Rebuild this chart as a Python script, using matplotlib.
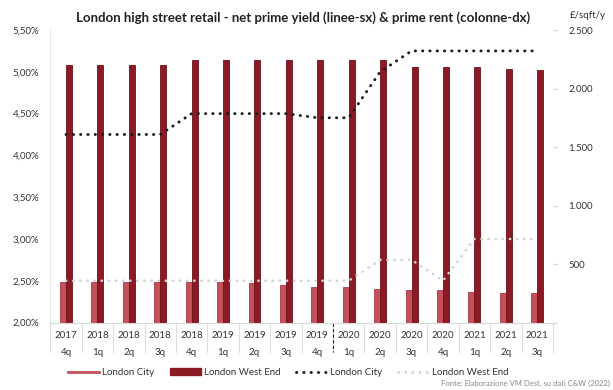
import numpy as np
import matplotlib.pyplot as plt
from matplotlib.lines import Line2D
from matplotlib.patches import Patch

plt.rcParams['font.family'] = ['Lato', 'DejaVu Sans']

# Trimestri (anno / quarter)
anni = ['2017', '2018', '2018', '2018', '2018', '2019', '2019', '2019', '2019',
        '2020', '2020', '2020', '2020', '2021', '2021', '2021']
trimestri = ['4q', '1q', '2q', '3q', '4q', '1q', '2q', '3q', '4q',
             '1q', '2q', '3q', '4q', '1q', '2q', '3q']

# Prime rent (£/sqft/y) - colonne, asse dx
rent_city = [345, 345, 345, 345, 345, 345, 340, 325, 305, 300, 290, 280, 275, 260, 250, 250]
rent_west_end = [2200, 2200, 2200, 2200, 2245, 2245, 2245, 2245, 2245, 2245, 2245,
                 2180, 2180, 2180, 2165, 2160]

# Net prime yield (%) - linee, asse sx
yield_city = [4.25, 4.25, 4.25, 4.25, 4.50, 4.50, 4.50, 4.50, 4.45, 4.45, 5.00,
              5.25, 5.25, 5.25, 5.25, 5.25]
yield_west_end = [2.50, 2.50, 2.50, 2.50, 2.50, 2.50, 2.50, 2.50, 2.50, 2.50, 2.75,
                  2.75, 2.50, 3.00, 3.00, 3.00]

col_city = '#c4505c'
col_we = '#8c1a24'
dot_city = dict(color='#1a1a1a', linewidth=2.1, linestyle=(0, (0.1, 2.4)), dash_capstyle='round')
dot_we = dict(color='#d2d2d2', linewidth=1.9, linestyle=(0, (0.1, 2.6)), dash_capstyle='round')

x = np.arange(len(anni))
w = 0.19

fig = plt.figure(figsize=(6.13, 3.90), dpi=100)
ax = fig.add_axes([0.082, 0.173, 0.82, 0.75])
ax2 = ax.twinx()

# colonne sull'asse destro
ax2.bar(x - w / 2, rent_city, width=w, color=col_city, edgecolor='#a83844', linewidth=0.6)
ax2.bar(x + w / 2, rent_west_end, width=w, color=col_we, edgecolor='#6e1018', linewidth=0.6)
ax2.set_ylim(0, 2500)
ax2.set_yticks([0, 500, 1000, 1500, 2000, 2500])
ax2.set_yticklabels(['', '500', '1.000', '1.500', '2.000', '2.500'])

# linee sull'asse sinistro, disegnate sopra le colonne
ax.set_zorder(ax2.get_zorder() + 1)
ax.patch.set_visible(False)
ax.plot(x, yield_west_end, **dot_we)
ax.plot(x, yield_city, **dot_city)
ax.set_ylim(2.0, 5.5)
yt = np.arange(2.0, 5.51, 0.5)
ax.set_yticks(yt)
ax.set_yticklabels([('%.2f%%' % v).replace('.', ',') for v in yt])
ax.set_xlim(-0.5, len(anni) - 0.5)
ax.set_xticks(x)
ax.set_xticklabels([a + '\n\n' + q for a, q in zip(anni, trimestri)], linespacing=0.95)

for a in (ax, ax2):
    for s in ('top', 'right', 'left', 'bottom'):
        a.spines[s].set_visible(False)
ax.spines['left'].set_visible(True)
ax.spines['left'].set_color('#e4e4e4')
ax.spines['bottom'].set_visible(True)
ax.spines['bottom'].set_color('#d9d9d9')
ax.tick_params(axis='y', length=0, labelsize=7, labelcolor='#333333', pad=8)
ax.tick_params(axis='x', length=0, labelsize=7, labelcolor='#333333', pad=6)
ax2.tick_params(axis='y', length=3, color='#d0d0d0', labelsize=7, labelcolor='#333333', pad=8)

# separatori tra le etichette dei trimestri
trans = ax.get_xaxis_transform()
for b in np.arange(-0.5, len(anni), 1.0):
    ax.plot([b, b], [0, -0.1], transform=trans, color='#dddddd', linewidth=0.8, clip_on=False)
ax.plot([8.5, 8.5], [0, -0.1], transform=trans, color='#222222', linewidth=0.8,
        linestyle=(0, (3, 2)), clip_on=False)

fig.text(0.495, 0.955, 'London high street retail - net prime yield (linee-sx) & prime rent (colonne-dx)',
         ha='center', va='center', fontsize=9.5, fontweight='bold', color='#222222')
fig.text(0.93, 0.96, '£/sqft/y', ha='left', va='center', fontsize=7, color='#333333')

handles = [Line2D([], [], color=col_city, linewidth=2),
           Patch(facecolor=col_we, edgecolor=col_we),
           Line2D([], [], **dot_city),
           Line2D([], [], **dot_we)]
labels = ['London City', 'London West End', 'London City', 'London West End']
fig.legend(handles, labels, loc='center', bbox_to_anchor=(0.47, 0.045), ncol=4, frameon=False,
           fontsize=7, handlelength=3.2, handletextpad=0.3, columnspacing=1.6,
           labelcolor='#333333')

fig.text(0.995, 0.018, 'Fonte: Elaborazione VM Dest. su dati C&W (2022)', ha='right', va='center',
         fontsize=5.5, color='#888888')

fig.savefig('out.png', dpi=100)
